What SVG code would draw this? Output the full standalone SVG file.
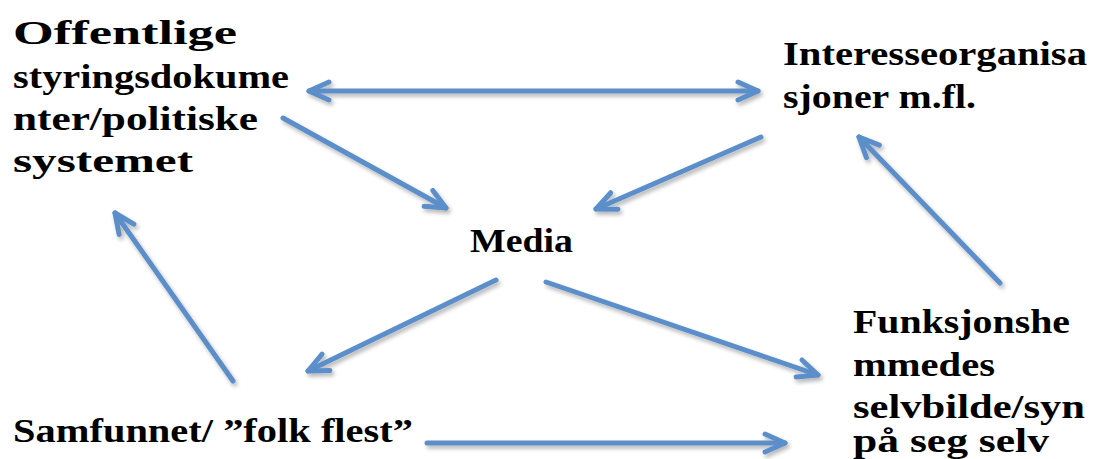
<svg xmlns="http://www.w3.org/2000/svg" width="1093" height="459" viewBox="0 0 1093 459">
  <style>
    .lbl { font-family: "Liberation Serif", "DejaVu Serif", serif; font-weight: bold; font-size: 33px; fill: #000; }
    .con { fill: none; stroke: #5b8fc9; stroke-width: 5; stroke-linecap: round; marker-end: url(#head); }
    .both { marker-start: url(#head); }
  </style>
  <defs>
    <marker id="head" markerUnits="userSpaceOnUse" viewBox="-24 -12 28 24" refX="0" refY="0" markerWidth="28" markerHeight="24" orient="auto-start-reverse">
      <path d="M-20,-9 L0,0 L-20,9" fill="none" stroke="#5b8fc9" stroke-width="5" stroke-linecap="round" stroke-linejoin="round"/>
    </marker>
    <filter id="shadow" x="-10%" y="-10%" width="120%" height="130%">
      <feGaussianBlur in="SourceAlpha" stdDeviation="2"/>
      <feOffset dx="2" dy="3" result="b"/>
      <feComponentTransfer><feFuncA type="linear" slope="0.3"/></feComponentTransfer>
      <feMerge><feMergeNode/><feMergeNode in="SourceGraphic"/></feMerge>
    </filter>
  </defs>

  <rect width="1093" height="459" fill="#fff"/>

  <!-- connectors -->
  <g id="connectors" filter="url(#shadow)">
    <line class="con both" x1="309" y1="91" x2="758" y2="91"/>
    <line class="con" x1="283" y1="118" x2="446" y2="208"/>
    <line class="con" x1="761" y1="137" x2="596" y2="209"/>
    <line class="con" x1="496" y1="280" x2="308" y2="371"/>
    <line class="con" x1="546" y1="282" x2="818" y2="375"/>
    <line class="con" x1="427" y1="443" x2="785" y2="443"/>
    <line class="con" x1="233" y1="381" x2="115" y2="213"/>
    <line class="con" x1="1000" y1="283" x2="859" y2="137"/>
  </g>

  <!-- nodes -->
  <g id="offentlige">
    <text class="lbl" x="13" y="44" textLength="224" lengthAdjust="spacingAndGlyphs">Offentlige</text>
    <text class="lbl" x="13" y="88" textLength="276" lengthAdjust="spacingAndGlyphs">styringsdokume</text>
    <text class="lbl" x="13" y="130" textLength="245" lengthAdjust="spacingAndGlyphs">nter/politiske</text>
    <text class="lbl" x="13" y="172" textLength="180" lengthAdjust="spacingAndGlyphs">systemet</text>
  </g>
  <g id="interesse">
    <text class="lbl" x="783" y="65" textLength="304" lengthAdjust="spacingAndGlyphs">Interesseorganisa</text>
    <text class="lbl" x="783" y="108" textLength="193" lengthAdjust="spacingAndGlyphs">sjoner m.fl.</text>
  </g>
  <g id="media">
    <text class="lbl" x="470" y="252" textLength="103" lengthAdjust="spacingAndGlyphs">Media</text>
  </g>
  <g id="funksjonshemmede">
    <text class="lbl" x="853" y="333" textLength="217" lengthAdjust="spacingAndGlyphs">Funksjonshe</text>
    <text class="lbl" x="853" y="376" textLength="142" lengthAdjust="spacingAndGlyphs">mmedes</text>
    <text class="lbl" x="853" y="418" textLength="232" lengthAdjust="spacingAndGlyphs">selvbilde/syn</text>
    <text class="lbl" x="853" y="452" textLength="196" lengthAdjust="spacingAndGlyphs">på seg selv</text>
  </g>
  <g id="samfunnet">
    <text class="lbl" x="13" y="442" textLength="400" lengthAdjust="spacingAndGlyphs">Samfunnet/ ”folk flest”</text>
  </g>
</svg>
